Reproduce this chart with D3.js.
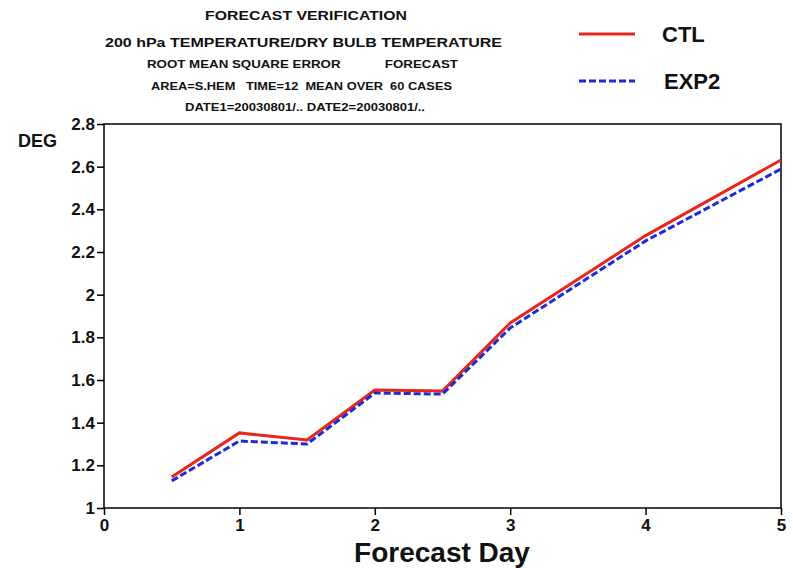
<!DOCTYPE html>
<html>
<head>
<meta charset="utf-8">
<script src="https://cdn.jsdelivr.net/npm/d3@7"></script>
<style>
  body { margin: 0; background: #fff; }
  svg { display: block; font-family: "Liberation Sans", Arial, sans-serif; font-weight: bold; }
</style>
</head>
<body>
<svg id="chart" width="793" height="568"></svg>
<script>
// forecast days and RMSE values (deg)
const days = [0.5, 1, 1.5, 2, 2.5, 3, 4, 5];
const ctl = [1.145, 1.352, 1.319, 1.553, 1.548, 1.867, 2.277, 2.631];
const exp2 = [1.127, 1.314, 1.300, 1.539, 1.534, 1.844, 2.252, 2.589];
const xTicks = [0, 1, 2, 3, 4, 5];
const yTicks = [1, 1.2, 1.4, 1.6, 1.8, 2, 2.2, 2.4, 2.6, 2.8];
const titleLines = [
  "FORECAST VERIFICATION",
  "200 hPa TEMPERATURE/DRY BULB TEMPERATURE",
  "ROOT MEAN SQUARE ERROR            FORECAST",
  "AREA=S.HEM   TIME=12  MEAN OVER  60 CASES",
  "DATE1=20030801/.. DATE2=20030801/.."
];

const svg = d3.select("#chart");
const plotL = 104, plotR = 781, plotT = 124, plotB = 508;

const x = d3.scaleLinear().domain([0, 5]).range([plotL, plotR]);
const y = d3.scaleLinear().domain([1, 2.8]).range([plotB, plotT]);

// frame
svg.append("rect")
  .attr("x", plotL).attr("y", plotT)
  .attr("width", plotR - plotL).attr("height", plotB - plotT)
  .attr("fill", "none").attr("stroke", "#000").attr("stroke-width", 1.5);

const yAxis = svg.append("g")
  .attr("transform", `translate(${plotL},0)`)
  .call(d3.axisLeft(y).tickValues(yTicks).tickSize(7).tickPadding(2).tickFormat(d => d3.format("~g")(d)));
yAxis.select(".domain").remove();
yAxis.selectAll("line").attr("stroke-width", 1.5);
yAxis.selectAll("text").attr("font-size", 17).attr("font-weight", "bold")
  .attr("font-family", "Liberation Sans, Arial, sans-serif").attr("fill", "#111");

const xAxis = svg.append("g")
  .attr("transform", `translate(0,${plotB})`)
  .call(d3.axisBottom(x).tickValues(xTicks).tickSize(7).tickPadding(4).tickFormat(d3.format("d")));
xAxis.select(".domain").remove();
xAxis.selectAll("line").attr("stroke-width", 1.5);
xAxis.selectAll("text").attr("font-size", 17).attr("font-weight", "bold")
  .attr("font-family", "Liberation Sans, Arial, sans-serif").attr("fill", "#111");

svg.append("text").attr("x", 18).attr("y", 147)
  .attr("font-size", 18).attr("fill", "#111").text("DEG");

svg.append("text").attr("x", 442).attr("y", 562)
  .attr("text-anchor", "middle").attr("font-size", 28).attr("fill", "#111")
  .text("Forecast Day");

// title block
const titleY = [20, 47, 68, 90, 111];
const titleSize = [12, 13.5, 10, 10, 10];
const titleX = [205, 105, 147, 151, 185];
const titleW = [202, 397, 311, 301, 240];
titleLines.forEach((t, i) => {
  svg.append("text").attr("x", titleX[i]).attr("y", titleY[i])
    .attr("font-size", titleSize[i])
    .attr("textLength", titleW[i]).attr("lengthAdjust", "spacingAndGlyphs")
    .attr("fill", "#111").style("white-space", "pre").text(t);
});

const line = d3.line().x(d => x(d[0])).y(d => y(d[1]));

svg.append("path")
  .datum(days.map((d, i) => [d, ctl[i]]))
  .attr("d", line).attr("fill", "none")
  .attr("stroke", "#e8261c").attr("stroke-width", 3);

svg.append("path")
  .datum(days.map((d, i) => [d, exp2[i]]))
  .attr("d", line).attr("fill", "none")
  .attr("stroke", "#1c2ad8").attr("stroke-width", 3)
  .attr("stroke-dasharray", "7,3");

// legend
const legend = [
  { name: "CTL", color: "#e8261c", dash: null, ly: 34, tx: 662 },
  { name: "EXP2", color: "#1c2ad8", dash: "7,3", ly: 81, tx: 664 }
];
legend.forEach(l => {
  svg.append("line").attr("x1", 579).attr("x2", 635).attr("y1", l.ly).attr("y2", l.ly)
    .attr("stroke", l.color).attr("stroke-width", 3).attr("stroke-dasharray", l.dash);
  svg.append("text").attr("x", l.tx).attr("y", l.ly + 8)
    .attr("font-size", 22).attr("font-weight", "bold").attr("fill", "#111").text(l.name);
});
</script>
</body>
</html>
